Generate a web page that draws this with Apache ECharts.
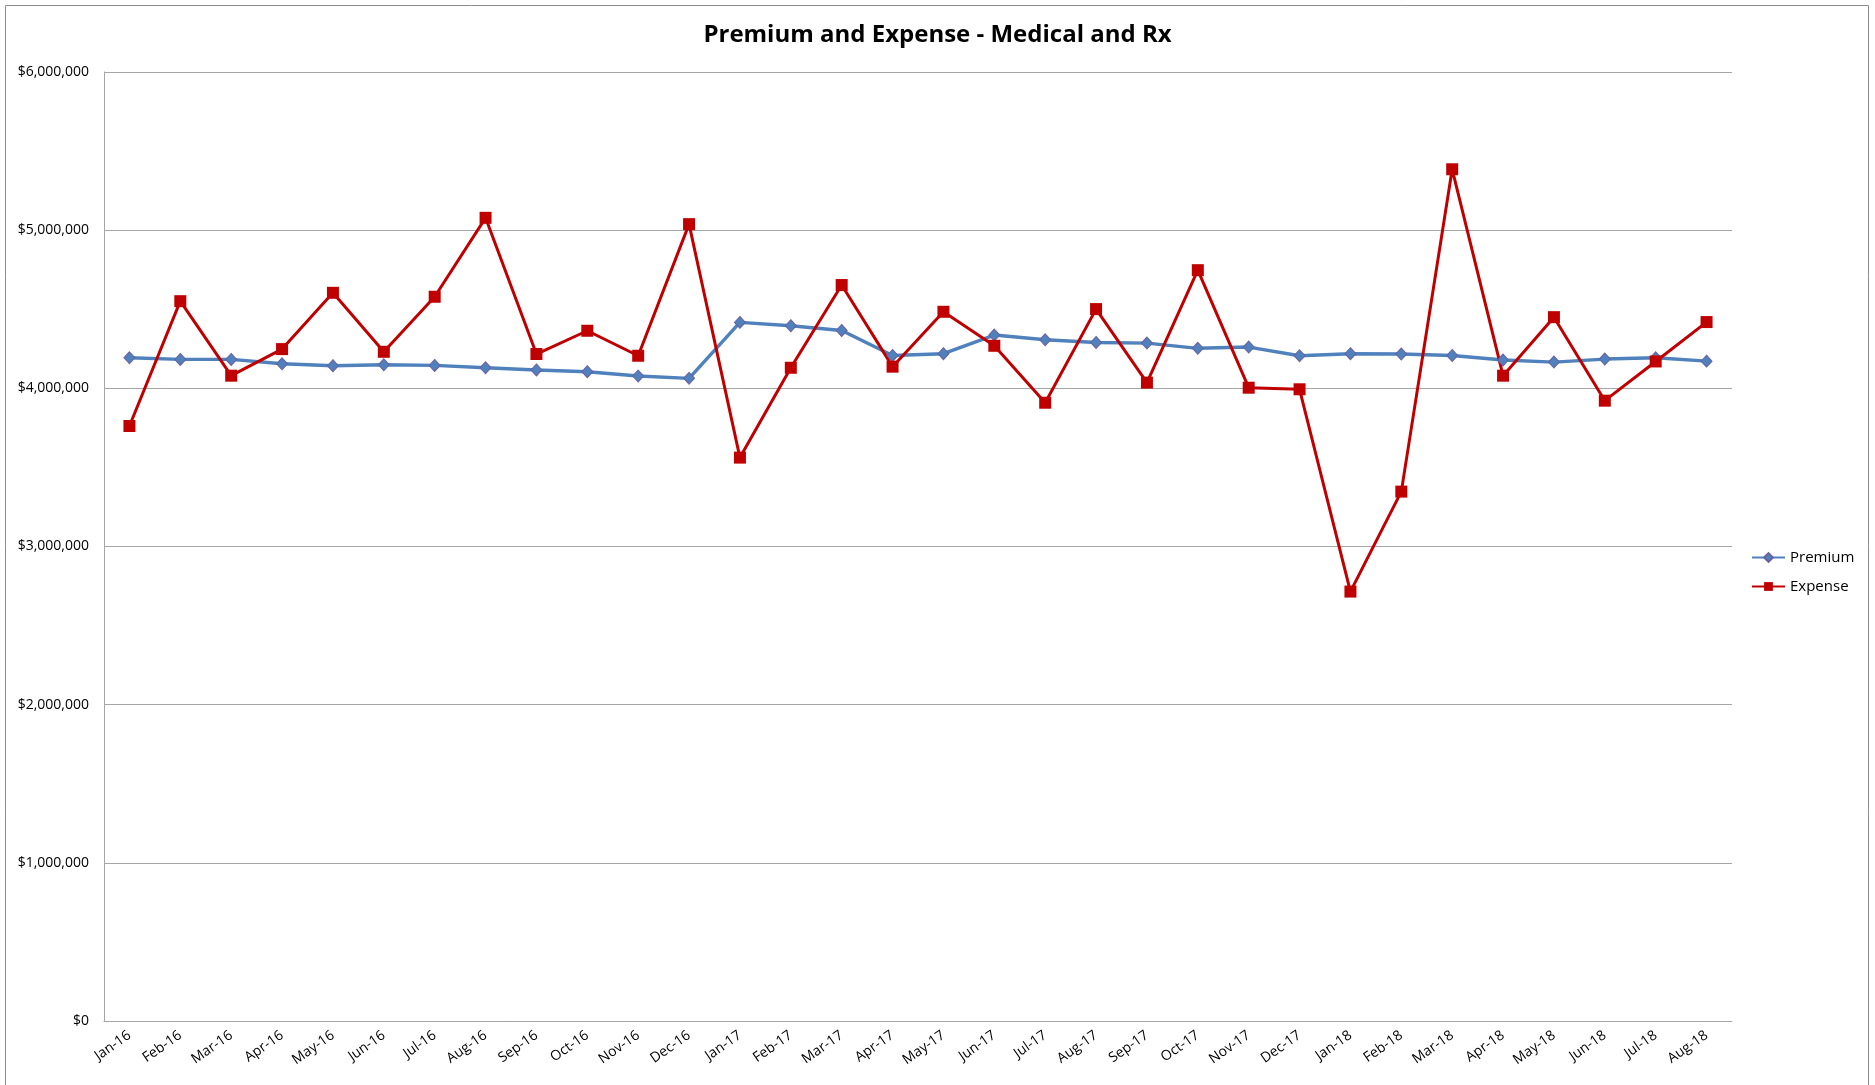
<!DOCTYPE html>
<html>
<head>
<meta charset="utf-8">
<title>Premium and Expense - Medical and Rx</title>
<script src="https://cdn.jsdelivr.net/npm/echarts@6/dist/echarts.min.js"></script>
<style>
  html, body { margin: 0; padding: 0; background: #fff; }
  .chart_main { width: 1875px; height: 1085px; }
</style>
</head>
<body>
<div class="chart_main"></div>
<script>
// months on the x axis
var months = ["Jan-16","Feb-16","Mar-16","Apr-16","May-16","Jun-16","Jul-16","Aug-16","Sep-16","Oct-16","Nov-16","Dec-16",
              "Jan-17","Feb-17","Mar-17","Apr-17","May-17","Jun-17","Jul-17","Aug-17","Sep-17","Oct-17","Nov-17","Dec-17",
              "Jan-18","Feb-18","Mar-18","Apr-18","May-18","Jun-18","Jul-18","Aug-18"];

// monthly premium
var premium = [4193000, 4183000, 4183000, 4155000, 4143000, 4149000, 4145000, 4130000, 4116000, 4105000, 4078000, 4063000,
               4417000, 4396000, 4366000, 4208000, 4219000, 4337000, 4307000, 4290000, 4286000, 4253000, 4261000, 4206000,
               4219000, 4217000, 4208000, 4179000, 4166000, 4185000, 4193000, 4172000];

// monthly expense
var expense = [3762000, 4551000, 4080000, 4248000, 4604000, 4231000, 4579000, 5078000, 4217000, 4364000, 4206000, 5038000,
               3562000, 4130000, 4653000, 4137000, 4484000, 4269000, 3909000, 4501000, 4036000, 4747000, 4004000, 3994000,
               2715000, 3347000, 5385000, 4080000, 4450000, 3922000, 4170000, 4419000];

// y axis range
var yMin = 0;
var yMax = 6000000;
var yStep = 1000000;

var font = '"Open Sans", "Noto Sans", sans-serif';

var chart = echarts.init(document.querySelector(".chart_main"));

var option = {
  animation: false,
  backgroundColor: '#fff',
  title: {
    text: 'Premium and Expense - Medical and Rx',
    left: 'center',
    top: 18,
    textStyle: { fontFamily: font, fontSize: 24, fontWeight: 'bold', color: '#000' }
  },
  // outer frame of the chart
  graphic: [{
    type: 'rect',
    shape: { x: 5.5, y: 5.5, width: 1863, height: 1100 },
    style: { fill: 'none', stroke: '#8c8c8c', lineWidth: 1 },
    silent: true
  }],
  legend: {
    orient: 'vertical',
    left: 1746,
    top: 545,
    itemWidth: 33,
    itemHeight: 11,
    itemGap: 14,
    textStyle: { fontFamily: font, fontSize: 15, color: '#000' },
    data: ['Premium', 'Expense']
  },
  grid: { left: 104, right: 143, top: 72, bottom: 64 },
  xAxis: {
    type: 'category',
    data: months,
    boundaryGap: true,
    axisLine: { lineStyle: { color: '#a6a6a6', width: 1 } },
    axisTick: { show: false },
    axisLabel: {
      rotate: 35,
      interval: 0,
      margin: 13,
      fontFamily: font,
      fontSize: 14,
      color: '#000'
    }
  },
  yAxis: {
    type: 'value',
    min: yMin,
    max: yMax,
    interval: yStep,
    axisLine: { show: true, lineStyle: { color: '#a6a6a6', width: 1 } },
    axisTick: { show: false },
    splitLine: { lineStyle: { color: '#a6a6a6', width: 1 } },
    axisLabel: {
      margin: 15,
      fontFamily: font,
      fontSize: 14,
      color: '#000',
      formatter: function (v) { return '$' + v.toLocaleString('en-US'); }
    }
  },
  series: [
    {
      name: 'Premium',
      type: 'line',
      data: premium,
      symbol: 'diamond',
      symbolSize: [11, 12],
      lineStyle: { color: '#4f81bd', width: 3.4 },
      itemStyle: { color: '#4f81bd', borderColor: '#6a60a0', borderWidth: 1 }
    },
    {
      name: 'Expense',
      type: 'line',
      data: expense,
      symbol: 'rect',
      symbolSize: 12,
      lineStyle: { color: '#c00000', width: 3 },
      itemStyle: { color: '#c00000', borderColor: '#c00000', borderWidth: 0 }
    }
  ]
};

chart.setOption(option);
</script>
</body>
</html>
